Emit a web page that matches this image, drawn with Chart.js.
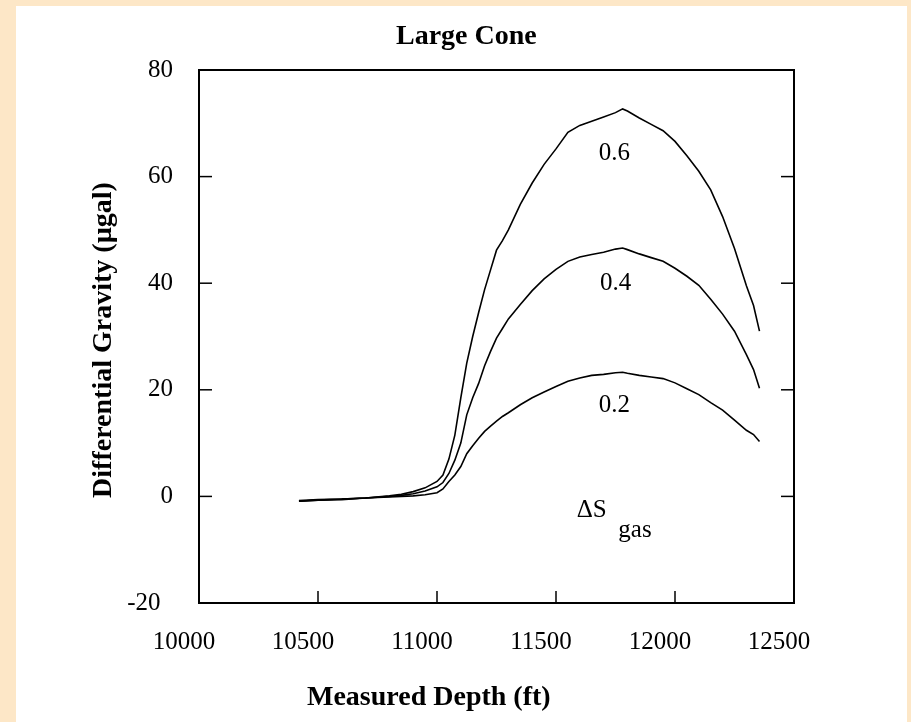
<!DOCTYPE html>
<html><head><meta charset="utf-8">
<script src="https://cdn.jsdelivr.net/npm/chart.js@4.4.1/dist/chart.umd.min.js"></script>
<style>html,body{margin:0;padding:0;background:#FDE7C7;}#wrap{width:911px;height:722px;position:relative}</style>
</head><body><div id="wrap"><canvas id="c" width="911" height="722"></canvas></div>
<script>
const depth = [10420,10500,10600,10700,10800,10850,10900,10950,11000,11025,11050,11075,11100,11125,11150,11175,11200,11225,11250,11275,11300,11350,11400,11450,11500,11550,11600,11650,11700,11750,11780,11800,11850,11900,11950,12000,12050,12100,12150,12200,12250,12300,12330,12355];
const dg06 = [-0.8,-0.6,-0.5,-0.3,0.1,0.4,0.9,1.6,2.8,4.0,7.0,11.5,18.5,25.0,30.0,34.5,38.8,42.5,46.2,48.0,50.0,54.8,58.8,62.3,65.2,68.3,69.6,70.4,71.2,72.0,72.7,72.3,71.0,69.8,68.6,66.6,63.9,61.0,57.5,52.5,46.5,39.5,35.8,31.0];
const dg04 = [-0.9,-0.7,-0.5,-0.3,0.0,0.2,0.5,1.0,1.8,2.6,4.3,6.8,10.0,15.3,18.5,21.2,24.5,27.2,29.7,31.5,33.3,36.0,38.6,40.8,42.6,44.1,44.9,45.4,45.8,46.4,46.6,46.3,45.5,44.8,44.1,42.8,41.3,39.6,37.0,34.2,31.0,26.6,23.8,20.3];
const dg02 = [-0.9,-0.7,-0.6,-0.3,-0.1,0.0,0.1,0.3,0.7,1.4,2.8,4.0,5.6,8.0,9.5,10.9,12.2,13.2,14.1,15.0,15.7,17.2,18.5,19.6,20.6,21.6,22.2,22.7,22.9,23.2,23.3,23.1,22.7,22.4,22.1,21.3,20.2,19.1,17.6,16.2,14.3,12.4,11.6,10.3];
const seriesNames = ['0.6','0.4','0.2'];
const xTicks = [10000,10500,11000,11500,12000,12500];
const yTicks = [-20,0,20,40,60,80];

const FONT = 'Liberation Serif';
const toPts = arr => depth.map((d,i)=>({x:d,y:arr[i]}));
const mk = (name, arr) => ({label:name, data:toPts(arr), borderColor:'#000', borderWidth:1.6, pointRadius:0, tension:0, fill:false});

const decor = {
  id:'decor',
  beforeDraw(chart){
    const c = chart.ctx;
    c.save();
    c.fillStyle = '#FDE7C7'; c.fillRect(0,0,chart.width,chart.height);
    c.fillStyle = '#FFFFFF'; c.fillRect(16,6,891,716);
    c.restore();
  },
  afterDraw(chart){
    const c = chart.ctx, a = chart.chartArea, xs = chart.scales.x, ys = chart.scales.y;
    c.save();
    c.strokeStyle = '#000';
    c.lineWidth = 1.5;
    xTicks.forEach(v=>{ const px = xs.getPixelForValue(v); c.beginPath(); c.moveTo(px,a.bottom); c.lineTo(px,a.bottom-12); c.stroke(); });
    yTicks.forEach(v=>{ const py = ys.getPixelForValue(v);
      c.beginPath(); c.moveTo(a.left,py); c.lineTo(a.left+13,py); c.stroke();
      c.beginPath(); c.moveTo(a.right,py); c.lineTo(a.right-13,py); c.stroke(); });
    c.lineWidth = 2;
    c.strokeRect(a.left,a.top,a.right-a.left,a.bottom-a.top);
    // curve labels
    c.fillStyle = '#000';
    c.font = '25px "'+FONT+'"';
    c.textAlign = 'center'; c.textBaseline = 'middle';
    const lab = [[11745,64.3],[11750,40.0],[11745,17.0]];
    seriesNames.forEach((s,i)=>{ c.fillText(s, xs.getPixelForValue(lab[i][0]), ys.getPixelForValue(lab[i][1])); });
    c.fillText('\u0394S', xs.getPixelForValue(11650), ys.getPixelForValue(-2.6));
    c.fillText('gas', xs.getPixelForValue(11832), ys.getPixelForValue(-6.4));
    // titles
    c.font = 'bold 28px "'+FONT+'"';
    c.textAlign = 'left';
    c.fillText('Large Cone', 396, 37);
    c.fillText('Measured Depth (ft)', 307, 698);
    c.textAlign = 'center';
    c.translate(104, 340); c.rotate(-Math.PI/2);
    c.fillText('Differential Gravity (\u00B5gal)', 0, 0);
    c.restore();
  }
};

new Chart(document.getElementById('c'), {
  type:'line',
  data:{ datasets:[mk(seriesNames[0],dg06), mk(seriesNames[1],dg04), mk(seriesNames[2],dg02)] },
  options:{
    responsive:false, animation:false,
    layout:{padding:{top:70,right:117,left:0,bottom:0}},
    plugins:{legend:{display:false}, title:{display:false}, tooltip:{enabled:false}},
    scales:{
      x:{type:'linear', min:10000, max:12500,
         afterBuildTicks:s=>{ s.ticks = xTicks.map(v=>({value:v})); },
         afterFit:s=>{ s.height = 119; },
         grid:{display:false, drawTicks:false}, border:{display:false},
         ticks:{color:'#000', font:{family:FONT,size:25}, padding:24, labelOffset:-15, maxRotation:0, callback:v=>String(v)}},
      y:{type:'linear', min:-20, max:80,
         afterBuildTicks:s=>{ s.ticks = yTicks.map(v=>({value:v})); },
         afterFit:s=>{ s.width = 199; },
         grid:{display:false, drawTicks:false}, border:{display:false},
         ticks:{color:'#000', font:{family:FONT,size:25}, padding:26, callback:v=> v < 0 ? String(v)+'\u2002' : String(v)}}
    }
  },
  plugins:[decor]
});
</script></body></html>
